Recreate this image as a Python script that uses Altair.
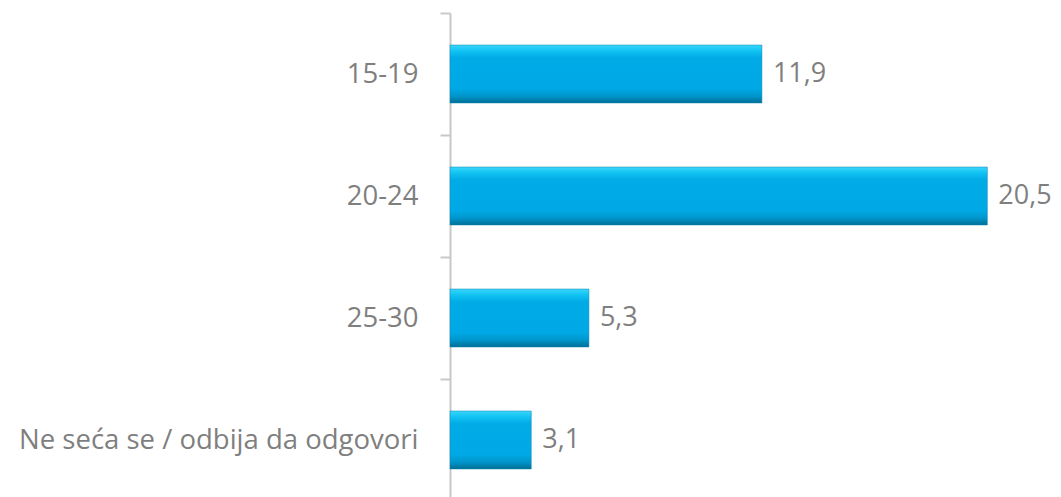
import altair as alt
import pandas as pd

categories = ["15-19", "20-24", "25-30", "Ne seća se / odbija da odgovori"]
values = [11.9, 20.5, 5.3, 3.1]

df = pd.DataFrame({"category": categories, "value": values})

FONT = "Open Sans"
GRAY = "#7f7f7f"

grad = alt.LinearGradient(
    gradient="linear",
    x1=0, y1=0, x2=0, y2=1,
    stops=[
        alt.GradientStop(color="#3ad6fb", offset=0),
        alt.GradientStop(color="#12c3f2", offset=0.1),
        alt.GradientStop(color="#00abe6", offset=0.22),
        alt.GradientStop(color="#00a9e5", offset=0.75),
        alt.GradientStop(color="#0096cc", offset=0.88),
        alt.GradientStop(color="#006f96", offset=1),
    ],
)

y_enc = alt.Y(
    "category:N",
    sort=categories,
    scale=alt.Scale(paddingInner=0, paddingOuter=0),
    axis=alt.Axis(
        title=None,
        domainColor="#c8c8c8",
        domainWidth=2,
        tickColor="#c8c8c8",
        tickWidth=2,
        tickSize=10,
        tickBand="extent",
        labelFont=FONT,
        labelFontSize=27.5,
        labelColor=GRAY,
        labelPadding=22,
        labelLimit=700,
    ),
)

x_enc = alt.X(
    "value:Q",
    scale=alt.Scale(domain=[0, 22.7], nice=False),
    axis=None,
)

bars = alt.Chart(df).mark_bar(
    color=grad, stroke="#0a86b0", strokeWidth=0.5, height=alt.RelativeBandSize(0.475)
).encode(x=x_enc, y=y_enc)

labels = (
    alt.Chart(df)
    .transform_calculate(label="replace(format(datum.value, '.1f'), '.', ',')")
    .mark_text(align="left", baseline="middle", dx=11, font=FONT, fontSize=27, color=GRAY)
    .encode(x=x_enc, y=alt.Y("category:N", sort=categories), text="label:N")
)

chart = (
    alt.layer(bars, labels)
    .properties(
        width=595,
        height=488,
        autosize=alt.AutoSizeParams(type="none"),
        padding={"left": 442, "top": 5, "right": 8, "bottom": 0},
        view=alt.ViewBackground(strokeWidth=0, stroke="transparent", fill="white"),
    )
    .configure_view(strokeWidth=0, stroke="transparent")
    .configure(background="white")
)

chart.save("out.html", embed_options={"renderer": "svg", "actions": False})
